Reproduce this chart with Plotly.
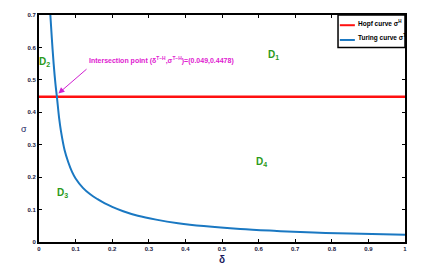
import plotly.graph_objects as go

# Turing curve sigma^T
turing_delta = [0.031, 0.035, 0.04, 0.045, 0.049, 0.055, 0.06, 0.07, 0.08, 0.09, 0.1,
                0.12, 0.14, 0.16, 0.18, 0.2, 0.23, 0.27, 0.32, 0.38, 0.45, 0.55,
                0.65, 0.75, 0.85, 1.0]
turing_sigma = [0.70, 0.629, 0.550, 0.487, 0.447, 0.382, 0.342, 0.283, 0.246, 0.217, 0.196,
                0.167, 0.147, 0.132, 0.119, 0.1085, 0.095, 0.081, 0.069, 0.058, 0.049, 0.040,
                0.034, 0.029, 0.026, 0.022]
# Hopf curve sigma^H (constant)
hopf_delta = [0.0, 1.0]
hopf_sigma = [0.4478, 0.4478]

x_ticks = [0, 0.1, 0.2, 0.3, 0.4, 0.5, 0.6, 0.7, 0.8, 0.9, 1]
x_tick_labels = ["0", "0.1", "0.2", "0.3", "0.4", "0.5", "0.6", "0.7", "0.8", "0.9", "1"]
y_ticks = [0, 0.1, 0.2, 0.3, 0.4, 0.5, 0.6, 0.7]
y_tick_labels = ["0", "0.1", "0.2", "0.3", "0.4", "0.5", "0.6", "0.7"]

legend_names = ["<b>Hopf curve σ<sup>H</sup></b>", "<b>Turing curve σ<sup>T</sup></b>"]
regions = [("D<sub>1</sub>", 0.642, 0.576), ("D<sub>2</sub>", 0.014, 0.555),
           ("D<sub>3</sub>", 0.063, 0.15), ("D<sub>4</sub>", 0.607, 0.247)]

FONT = "Liberation Sans, Arial"
RED = "#ff1010"
BLUE = "#1a78c2"

fig = go.Figure()
fig.add_trace(go.Scatter(x=hopf_delta, y=hopf_sigma, mode="lines",
                         line=dict(color=RED, width=2.5), name=legend_names[0],
                         showlegend=False))
fig.add_trace(go.Scatter(x=turing_delta, y=turing_sigma, mode="lines",
                         line=dict(color=BLUE, width=2, shape="spline", smoothing=1.0),
                         name=legend_names[1], showlegend=False))

ann = []
for txt, xx, yy in regions:
    ann.append(dict(x=xx, y=yy, xref="x", yref="y", text="<b>" + txt + "</b>",
                    showarrow=False, font=dict(family=FONT, size=10, color="#2a9a1a")))
ann.append(dict(x=0.131, y=0.561, xref="x", yref="y", xanchor="left", yanchor="middle",
                text="<b>Intersection point (δ<sup>T−H</sup>,σ<sup>T−H</sup>)=(0.049,0.4478)</b>",
                showarrow=False, font=dict(family=FONT, size=7, color="#e020d0")))
ann.append(dict(x=0.053, y=0.458, xref="x", yref="y", ax=0.134, ay=0.537,
                axref="x", ayref="y", text="", showarrow=True, arrowhead=2,
                arrowsize=1.2, arrowwidth=1, arrowcolor="#d020d0"))
ann.append(dict(x=0, y=0.5, xref="paper", yref="paper", xanchor="center", yanchor="middle",
                xshift=-15, text="σ",
                showarrow=False, font=dict(family=FONT, size=9, color="#1a1a60")))
ann.append(dict(x=0.5, y=0, xref="paper", yref="paper", xanchor="center", yanchor="middle",
                yshift=-17, text="<b>δ</b>",
                showarrow=False, font=dict(family=FONT, size=10, color="#1a1a60")))

# hand-drawn legend box (compact, like the original)
shapes = [dict(type="rect", xref="paper", yref="paper", x0=0.817, x1=1.0, y0=0.857, y1=1.0,
               line=dict(color="black", width=1.5), fillcolor="white", layer="above")]
for name, col, yy in [(legend_names[0], RED, 0.955), (legend_names[1], BLUE, 0.89)]:
    shapes.append(dict(type="line", xref="paper", yref="paper", x0=0.822, x1=0.863,
                       y0=yy, y1=yy, line=dict(color=col, width=2), layer="above"))
    ann.append(dict(x=0.866, y=yy, xref="paper", yref="paper", xanchor="left",
                    yanchor="middle", yshift=2,
                    text=name, showarrow=False,
                    font=dict(family=FONT, size=6.5, color="black")))

axis_common = dict(showline=True, linecolor="black", linewidth=2, mirror="ticks",
                   ticks="inside", ticklen=3, tickwidth=1, tickcolor="black",
                   showgrid=False, zeroline=False,
                   tickfont=dict(family=FONT, size=6, color="#1a1a40"))
fig.update_layout(
    width=426, height=268,
    margin=dict(l=39, r=21, t=12, b=26),
    paper_bgcolor="white", plot_bgcolor="white",
    xaxis=dict(range=[0, 1], tickvals=x_ticks, ticktext=["<b>%s</b>" % t for t in x_tick_labels],
               **axis_common),
    yaxis=dict(range=[0, 0.7], tickvals=y_ticks, ticktext=["<b>%s</b>" % t for t in y_tick_labels],
               **axis_common),
    annotations=ann,
    shapes=shapes,
    showlegend=False,
)
fig.write_html("out.html", config={"displayModeBar": False},
               post_script="document.body.style.margin='0';")
